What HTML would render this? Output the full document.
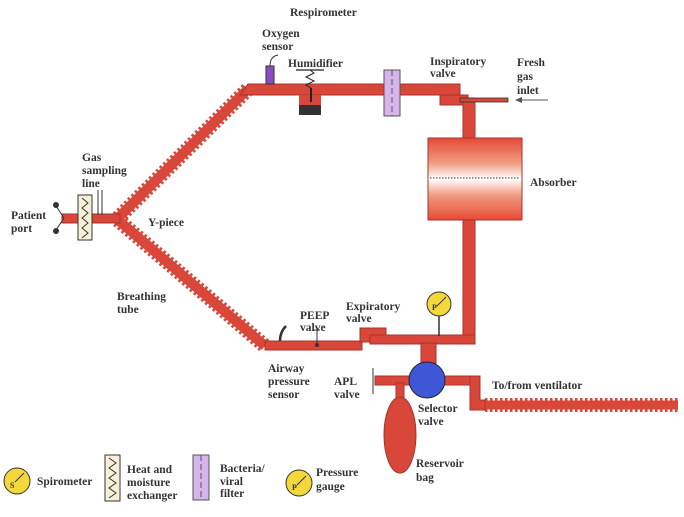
<!DOCTYPE html>
<html><head><meta charset="utf-8"><style>
body{margin:0;background:#fff}
svg text{font-family:"Liberation Serif",serif;font-weight:bold;font-size:11.5px;fill:#333}
</style></head><body>
<svg width="684" height="512" viewBox="0 0 684 512">
<defs>
<linearGradient id="ab" x1="0" y1="0" x2="0" y2="1">
<stop offset="0" stop-color="#e64a35"/><stop offset="0.3" stop-color="#f19a80"/><stop offset="0.5" stop-color="#fff"/><stop offset="0.7" stop-color="#f19a80"/><stop offset="1" stop-color="#e64a35"/>
</linearGradient>
</defs>
<g fill="#d9473a" stroke="#a8332a" stroke-width="1">
<polyline points="118,218 248,89" fill="none" stroke="#d9473a" stroke-width="15" stroke-dasharray="2.5 2.5"/>
<polyline points="118,218 248,89" fill="none" stroke="#d9473a" stroke-width="10"/>
<polyline points="118,220 265,346" fill="none" stroke="#d9473a" stroke-width="15" stroke-dasharray="2.5 2.5"/>
<polyline points="118,220 265,346" fill="none" stroke="#d9473a" stroke-width="10"/>
<line x1="485" y1="405" x2="678" y2="405" stroke="#d9473a" stroke-width="14" stroke-dasharray="2.5 2.5"/>
<line x1="485" y1="405" x2="678" y2="405" stroke="#d9473a" stroke-width="9"/>
<rect x="62" y="214" width="58" height="9"/>
<polygon points="248,84 460,84 460,95 254,95 240,95"/>
<rect x="440" y="95" width="28" height="10"/>
<rect x="463" y="98" width="12" height="42"/>
<rect x="463" y="218" width="12" height="125"/>
<rect x="265" y="341" width="97" height="9"/>
<rect x="360" y="328" width="26" height="14"/>
<rect x="370" y="335" width="105" height="9"/>
<rect x="421" y="343" width="15" height="25"/>
<rect x="375" y="376" width="105" height="9"/>
<polygon points="470,376 480,376 480,400 485,400 485,410 470,410"/>
<rect x="396" y="383" width="8" height="18"/>
<ellipse cx="400" cy="435" rx="16" ry="38"/>
</g>
<rect x="299" y="95" width="22" height="20" fill="#d9473a"/>
<rect x="299" y="105" width="22" height="10" fill="#333"/>
<line x1="296" y1="70" x2="324" y2="70" stroke="#222" stroke-width="1.2"/>
<polyline points="310,70 314,73 306,77 314,81 306,85 311,88" fill="none" stroke="#222"/>
<line x1="311" y1="88" x2="311" y2="102" stroke="#222" stroke-width="2"/>
<rect x="266" y="66" width="8" height="18" fill="#8a4cc2" stroke="#333"/>
<path d="M270,66 C270,60 272,56 278,55" fill="none" stroke="#333"/>
<rect x="384" y="70" width="16" height="46" fill="#d7b5ec" stroke="#555"/>
<line x1="392" y1="70" x2="392" y2="116" stroke="#555" stroke-dasharray="6 3"/>
<rect x="460" y="98" width="48" height="4" fill="#d9473a" stroke="#333" stroke-width="0.8"/>
<line x1="518" y1="100" x2="548" y2="100" stroke="#555"/>
<polygon points="515,100 522,97 522,103" fill="#555"/>
<rect x="428" y="138" width="94" height="82" fill="url(#ab)" stroke="#a8332a"/>
<line x1="430" y1="178" x2="520" y2="178" stroke="#333" stroke-dasharray="1.5 1.5"/>
<rect x="78" y="195" width="14" height="45" fill="#f7f0d8" stroke="#333"/>
<polyline points="82,198 88,203 82,208 88,213 82,218 88,223 82,228 88,233 82,238" fill="none" stroke="#333"/>
<line x1="98" y1="190" x2="98" y2="215" stroke="#333"/><line x1="102" y1="190" x2="102" y2="215" stroke="#333"/>
<line x1="64" y1="218" x2="56" y2="206" stroke="#333"/><line x1="64" y1="218" x2="56" y2="230" stroke="#333"/>
<circle cx="56" cy="205" r="3" fill="#333"/><circle cx="56" cy="231" r="3" fill="#333"/>
<path d="M280,341 C280,335 282,330 286,326" fill="none" stroke="#333" stroke-width="2.5"/>
<line x1="314" y1="330" x2="320" y2="330" stroke="#333"/><line x1="317" y1="330" x2="317" y2="345" stroke="#333"/>
<circle cx="317" cy="345" r="2" fill="#333"/>
<line x1="439" y1="316" x2="439" y2="336" stroke="#333" stroke-width="1.5"/>
<circle cx="439" cy="304" r="12" fill="#f4d83a" stroke="#333"/>
<text x="432" y="310" style="font-size:8px">P</text>
<line x1="437" y1="306" x2="446" y2="297" stroke="#333"/>
<circle cx="427" cy="380" r="18" fill="#3f57d6" stroke="#223"/>
<line x1="373" y1="368" x2="373" y2="394" stroke="#333"/>
<circle cx="17" cy="481" r="13" fill="#f4d83a" stroke="#333"/>
<text x="10" y="488" style="font-size:8px">S</text>
<line x1="15" y1="482" x2="24" y2="473" stroke="#333"/>
<rect x="105" y="455" width="15" height="46" fill="#f7f0d8" stroke="#333"/>
<polyline points="109,458 116,463 109,468 116,473 109,478 116,483 109,488 116,493 109,498" fill="none" stroke="#333"/>
<rect x="193" y="455" width="16" height="45" fill="#d7b5ec" stroke="#555"/>
<line x1="201" y1="455" x2="201" y2="500" stroke="#555" stroke-dasharray="6 3"/>
<circle cx="299" cy="483" r="13" fill="#f4d83a" stroke="#333"/>
<text x="292" y="490" style="font-size:8px">P</text>
<line x1="297" y1="485" x2="306" y2="476" stroke="#333"/>
<text x="290" y="16">Respirometer</text>
<text x="262" y="37">Oxygen</text><text x="262" y="50">sensor</text>
<text x="288" y="67">Humidifier</text>
<text x="430" y="65">Inspiratory</text><text x="430" y="77">valve</text>
<text x="517" y="66">Fresh</text><text x="517" y="80">gas</text><text x="517" y="94">inlet</text>
<text x="530" y="186">Absorber</text>
<text x="82" y="161">Gas</text><text x="82" y="174">sampling</text><text x="82" y="187">line</text>
<text x="11" y="219">Patient</text><text x="11" y="232">port</text>
<text x="148" y="226">Y-piece</text>
<text x="117" y="300">Breathing</text><text x="117" y="313">tube</text>
<text x="300" y="319">PEEP</text><text x="300" y="331">valve</text>
<text x="346" y="310">Expiratory</text><text x="346" y="322">valve</text>
<text x="268" y="372">Airway</text><text x="268" y="385">pressure</text><text x="268" y="398">sensor</text>
<text x="334" y="385">APL</text><text x="334" y="398">valve</text>
<text x="418" y="412">Selector</text><text x="418" y="425">valve</text>
<text x="492" y="389">To/from ventilator</text>
<text x="416" y="467">Reservoir</text><text x="416" y="481">bag</text>
<text x="37" y="485">Spirometer</text>
<text x="127" y="473">Heat and</text><text x="127" y="486">moisture</text><text x="127" y="499">exchanger</text>
<text x="220" y="472">Bacteria/</text><text x="220" y="485">viral</text><text x="220" y="497">filter</text>
<text x="316" y="476">Pressure</text><text x="316" y="490">gauge</text>
</svg>
</body></html>
